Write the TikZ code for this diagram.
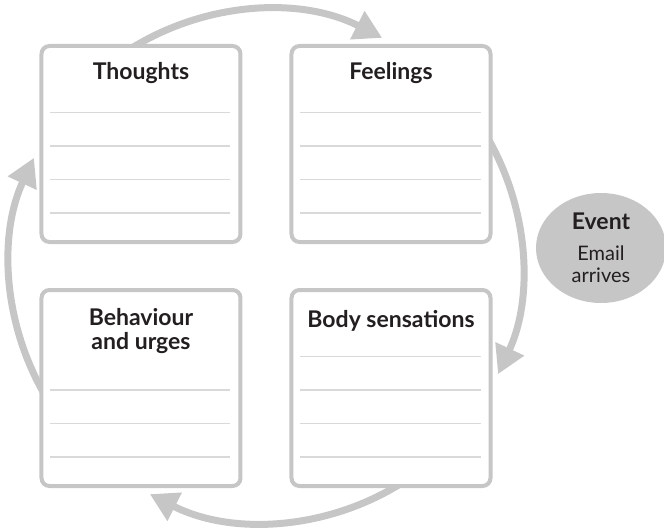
\documentclass[tikz,border=0pt]{standalone}
\usepackage{fontspec}
\setmainfont{Lato}
\usetikzlibrary{arrows.meta,positioning,shapes.geometric}

\definecolor{ringgray}{HTML}{C6C6C6}
\definecolor{rulegray}{HTML}{D9D9D9}
\definecolor{inkblack}{HTML}{231F20}

\begin{document}
\begin{tikzpicture}[x=1pt,y=1pt,
	box_node/.style={rectangle,draw=ringgray,line width=4pt,rounded corners=8pt,fill=white,minimum width=199pt,minimum height=196pt,inner sep=0pt},
	title_text/.style={anchor=base,align=center,text=inkblack,font=\fontsize{23}{23.5}\selectfont\bfseries},
	rule_line/.style={draw=rulegray,line width=1.2pt},
	cycle_arrow/.style={draw=ringgray,line width=7pt,-{Triangle[length=28pt,width=30pt]}},
	event_node/.style={ellipse,fill=ringgray,minimum width=130pt,minimum height=110pt,inner sep=0pt,align=center,text=inkblack,font=\fontsize{20}{22}\selectfont}]
	\useasboundingbox (-266,-262) rectangle (398,266);
	\coordinate (hub) at (0,0);

	% the cycle, behind the boxes
	\draw[cycle_arrow] (hub) ++(125:256) arc[start angle=125,end angle=63,radius=256];
	\draw[cycle_arrow] (hub) ++(31:256) arc[start angle=31,end angle=-25,radius=256];
	\draw[cycle_arrow] (hub) ++(-55:256) arc[start angle=-55,end angle=-117,radius=256];
	\draw[cycle_arrow] (hub) ++(211:256) arc[start angle=211,end angle=155,radius=256];

	\node[box_node] (thoughts) at (-125,122) {};
	\node[box_node] (feelings) at (125,122) {};
	\node[box_node] (behaviour) at (-125,-122) {};
	\node[box_node] (body) at (125,-122) {};

	\node[title_text] (thoughts_t) at ([yshift=-36pt]thoughts.north) {Thoughts};
	\node[title_text] (feelings_t) at ([yshift=-36pt]feelings.north) {Feelings};
	\node[title_text] (behaviour_t) at ([yshift=-61pt]behaviour.north) {Behaviour\\and urges};
	\node[title_text] (body_t) at ([yshift=-39pt]body.north) {Body sensations};

	\foreach \b/\n in {thoughts/3,feelings/3,behaviour/2,body/3}
		\foreach \k in {0,...,\n}
			\draw[rule_line] ([xshift=11pt,yshift={31+33.5*\k}]\b.south west) -- ([xshift=-12pt,yshift={31+33.5*\k}]\b.south east);

	\node[event_node] (event) at (335,18) {{\fontsize{23}{24}\selectfont\bfseries Event}\\[9pt]Email\\arrives};
\end{tikzpicture}
\end{document}
